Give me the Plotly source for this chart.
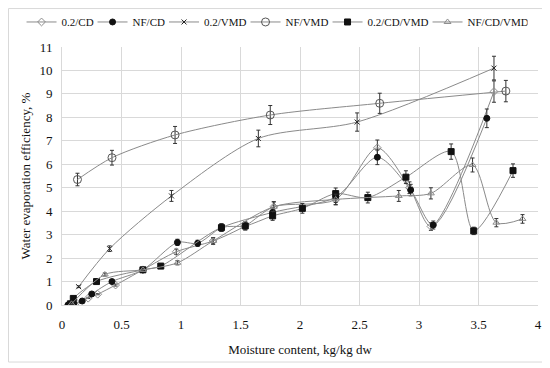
import plotly.graph_objects as go

# ---- data ----
x_02cd = [0.06, 0.12, 0.22, 0.30, 0.45, 0.68, 0.96, 1.27, 1.54, 1.78, 2.30, 2.65, 2.92, 3.10, 3.63]
y_02cd = [0.03, 0.10, 0.29, 0.46, 0.85, 1.50, 2.27, 2.73, 3.37, 4.19, 4.50, 6.70, 5.00, 3.35, 9.10]

x_nfcd = [0.05, 0.10, 0.17, 0.25, 0.42, 0.68, 0.97, 1.14, 1.34, 1.77, 2.30, 2.65, 2.93, 3.12, 3.57]
y_nfcd = [0.00, 0.06, 0.17, 0.47, 1.00, 1.50, 2.67, 2.63, 3.30, 3.95, 4.60, 6.30, 4.90, 3.41, 7.96]

x_02vmd = [0.14, 0.40, 0.92, 1.65, 2.48, 3.63]
y_02vmd = [0.78, 2.40, 4.65, 7.10, 7.80, 10.10]

x_nfvmd = [0.13, 0.42, 0.95, 1.75, 2.67, 3.73]
y_nfvmd = [5.35, 6.28, 7.25, 8.10, 8.60, 9.12]

x_02cdvmd = [0.07, 0.095, 0.29, 0.68, 0.83, 1.34, 1.54, 1.77, 2.02, 2.30, 2.57, 2.89, 3.27, 3.46, 3.79]
y_02cdvmd = [0.05, 0.28, 1.00, 1.50, 1.66, 3.30, 3.37, 3.80, 4.12, 4.75, 4.58, 5.45, 6.54, 3.16, 5.73]

x_nfcdvmd = [0.08, 0.36, 0.68, 0.97, 1.27, 1.78, 2.30, 2.83, 3.10, 3.45, 3.65, 3.87]
y_nfcdvmd = [0.05, 1.30, 1.50, 1.80, 2.73, 4.19, 4.50, 4.65, 4.76, 5.97, 3.51, 3.67]

series_names = ["0.2/CD", "NF/CD", "0.2/VMD", "NF/VMD", "0.2/CD/VMD", "NF/CD/VMD"]
xs = [x_02cd, x_nfcd, x_02vmd, x_nfvmd, x_02cdvmd, x_nfcdvmd]
ys = [y_02cd, y_nfcd, y_02vmd, y_nfvmd, y_02cdvmd, y_nfcdvmd]

x_ticks = [0, 0.5, 1, 1.5, 2, 2.5, 3, 3.5, 4]
x_tick_text = ["0", "0.5", "1", "1.5", "2", "2.5", "3", "3.5", "4"]
y_ticks = list(range(0, 12))

# ---- styles ----
styles = [
    dict(symbol="diamond-open", size=6, color="#8c8c8c", lw=26),
    dict(symbol="circle", size=6, color="#111111", lw=26.5),
    dict(symbol="x-thin-open", size=5, color="#222222", lw=36.5),
    dict(symbol="circle-open", size=8, color="#555555", lw=37),
    dict(symbol="square", size=6, color="#111111", lw=55),
    dict(symbol="triangle-up-open", size=6, color="#8c8c8c", lw=55),
]

fig = go.Figure()
for name, x, y, st in zip(series_names, xs, ys, styles):
    fig.add_trace(go.Scatter(
        x=x, y=y, name=name, mode="lines+markers",
        line=dict(color="#8a8a8a", width=1, shape="spline", smoothing=0.8),
        marker=dict(symbol=st["symbol"], size=st["size"], color=st["color"],
                    line=dict(color=st["color"], width=1)),
        error_y=dict(type="percent", value=5, color="#333333", thickness=1, width=2),
        legendwidth=st["lw"],
    ))

font_family = "Liberation Serif"

fig.update_layout(
    width=542, height=360,
    margin=dict(l=54, r=12, t=39, b=63, autoexpand=False),
    paper_bgcolor="white", plot_bgcolor="white",
    font=dict(family=font_family, size=13, color="#111111"),
    showlegend=True,
    legend=dict(orientation="h", x=-0.085, xanchor="left", y=1.097, yanchor="middle",
                font=dict(size=11, family=font_family, color="#111111"), itemwidth=30,
                bgcolor="rgba(0,0,0,0)", tracegroupgap=0),
    xaxis=dict(range=[0, 4], tickvals=x_ticks, ticktext=x_tick_text,
               showgrid=True, gridcolor="#d9d9d9", gridwidth=1,
               zeroline=False, showline=True, linecolor="#d9d9d9",
               ticks="", tickfont=dict(size=13), ticklabelstandoff=7,
               title=dict(text="Moisture content, kg/kg dw", font=dict(size=13), standoff=14)),
    yaxis=dict(range=[0, 11], tickvals=y_ticks,
               showgrid=True, gridcolor="#d9d9d9", gridwidth=1,
               zeroline=False, showline=True, linecolor="#d9d9d9",
               ticks="", tickfont=dict(size=13), ticklabelstandoff=6,
               title=dict(text="Water evaporation efficiency, %", font=dict(size=13), standoff=5)),
    shapes=[dict(type="rect", xref="paper", yref="paper",
                 x0=-0.1124, x1=1.0158, y0=-0.221, y1=1.149,
                 line=dict(color="#d9d9d9", width=1), fillcolor="rgba(0,0,0,0)", layer="below")],
)

fig.write_html("out.html")
